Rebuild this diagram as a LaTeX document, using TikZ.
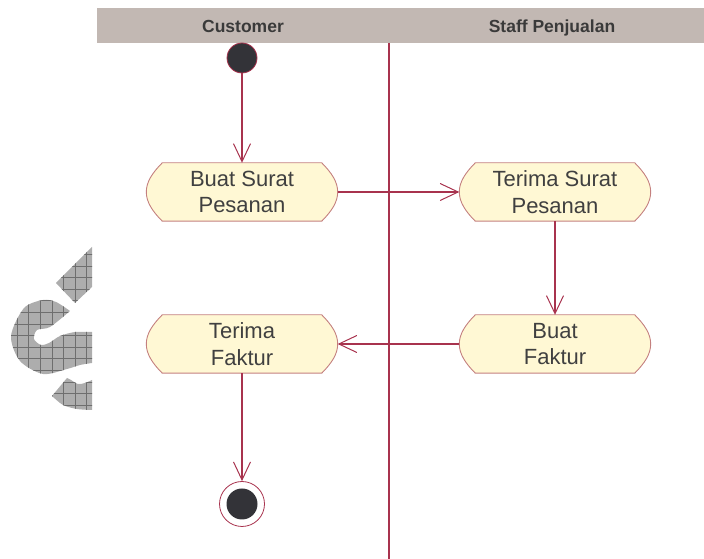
\documentclass[tikz,border=0pt]{standalone}
\usepackage{fontspec}
\setmainfont{Liberation Sans}
\usetikzlibrary{arrows.meta,calc,backgrounds}

\definecolor{lanegray}{HTML}{C2B8B3}
\definecolor{headtxt}{HTML}{3A3A3A}
\definecolor{flowred}{HTML}{A8334E}
\definecolor{actborder}{HTML}{C4807F}
\definecolor{actfill}{HTML}{FFF8D4}
\definecolor{acttxt}{HTML}{404040}
\definecolor{dotfill}{HTML}{333338}
\definecolor{markgray}{HTML}{ADADAD}
\definecolor{markgrid}{HTML}{6E6E6E}

% outline of an action node: straight top/bottom, chamfered rounded ends
\newcommand{\actoutline}[1]{%
  \draw[draw=actborder, fill=actfill, line width=0.9pt]
    ($(#1.north west)+(16pt,0)$) -- ($(#1.north east)+(-16pt,0)$)
    .. controls ($(#1.north east)+(-6pt,-10pt)$) and ($(#1.east)+(0,10pt)$) .. (#1.east)
    .. controls ($(#1.east)+(0,-10pt)$) and ($(#1.south east)+(-6pt,10pt)$) .. ($(#1.south east)+(-16pt,0)$)
    -- ($(#1.south west)+(16pt,0)$)
    .. controls ($(#1.south west)+(6pt,10pt)$) and ($(#1.west)+(0,-10pt)$) .. (#1.west)
    .. controls ($(#1.west)+(0,10pt)$) and ($(#1.north west)+(6pt,-10pt)$) .. cycle;}

\begin{document}
\begin{tikzpicture}[x=1pt, y=1pt,
  flow/.style={draw=flowred, line width=1.1pt,
    -{Straight Barb[length=18pt, width=17pt, line width=1pt]}},
  action/.style={minimum width=191pt, minimum height=58pt, inner sep=0pt,
    align=center, text=acttxt, font=\fontsize{22}{26.5}\selectfont},
  lanehead/.style={anchor=base, text=headtxt,
    font=\fontsize{17.5}{20}\selectfont\bfseries},
  startdot/.style={circle, fill=dotfill, draw=flowred, line width=0.8pt,
    minimum size=30pt, inner sep=0pt},
  endring/.style={circle, draw=flowred, line width=0.8pt,
    minimum size=45pt, inner sep=0pt},
  enddot/.style={circle, fill=dotfill, minimum size=31pt, inner sep=0pt},
]
\useasboundingbox (0,0) rectangle (704,559);

% grey hatched mark at the left edge
\begin{scope}[shift={(0,559)}, yscale=-1]
  \begin{scope}
    \clip (92,247) -- (56,283) -- (75,303) -- (92,287) -- cycle
      plot[smooth] coordinates {(70,311) (56,302) (43,300) (24,308) (11,336) (20,361) (43,374) (67,369) (80,365) (92,363)}
      -- (92,332)
      -- plot[smooth] coordinates {(92,332) (75,332) (60,336) (49,343) (41,345) (34,339) (37,330) (50,327) (70,311)}
      -- cycle
      plot[smooth] coordinates {(92,380) (85,383) (78,384) (71,380) (67,378)}
      -- (52,396)
      -- plot[smooth] coordinates {(52,396) (63,405) (77,409) (92,410)}
      -- cycle;
    \fill[markgray] (0,240) rectangle (95,420);
    \foreach \i in {0,...,8}
      \draw[markgrid, line width=0.7pt] (5.6+11.6*\i,240) -- (5.6+11.6*\i,420);
    \foreach \j in {-2,...,13}
      \draw[markgrid, line width=0.7pt] (0,266+11.6*\j) -- (95,266+11.6*\j);
  \end{scope}
\end{scope}

% swimlane header and divider
\fill[lanegray] (97,516) rectangle (704,551);
\node[lanehead] (cust) at (243,526.3) {Customer};
\node[lanehead] (staff) at (552,526.3) {Staff Penjualan};
\coordinate (divtop) at (389,516);
\coordinate (divbot) at (389,0);
\draw[flowred, line width=1.2pt] (divtop) -- (divbot);

% actions
\node[action] (bs) at (242,367) {Buat Surat\\Pesanan};
\node[action] (ts) at (555,367) {Terima Surat\\Pesanan};
\node[action] (bf) at (555,215) {Buat\\Faktur};
\node[action] (tf) at (242,215) {Terima\\Faktur};
\begin{scope}[on background layer]
  \actoutline{bs}
  \actoutline{ts}
  \actoutline{bf}
  \actoutline{tf}
\end{scope}

% initial and final states
\node[startdot] (start) at (242,501) {};
\node[endring] (end) at (242,55) {};
\node[enddot] (endcore) at (end.center) {};

% control flow
\draw[flow] (start) -- (bs);
\draw[flow] (bs) -- (ts);
\draw[flow] (ts) -- (bf);
\draw[flow] (bf) -- (tf);
\draw[flow] (tf) -- (end);
\end{tikzpicture}
\end{document}
